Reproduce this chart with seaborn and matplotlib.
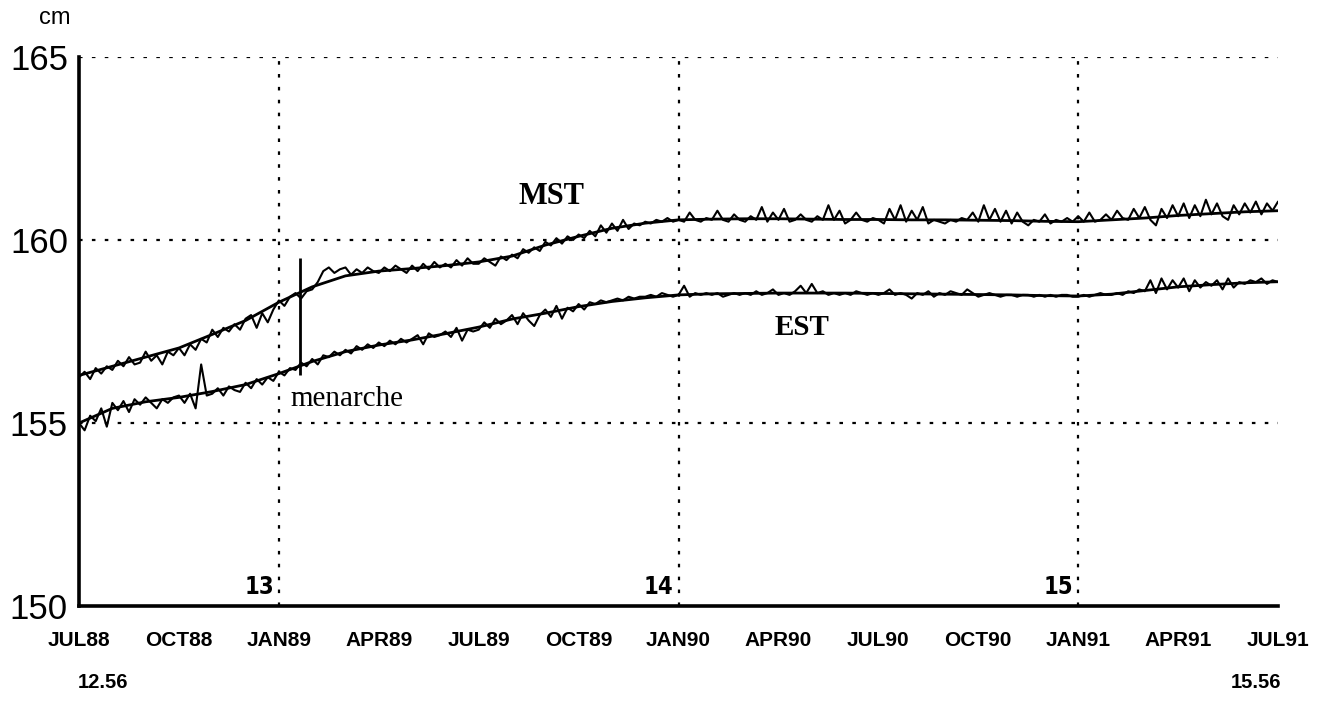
import numpy as np
import pandas as pd
import matplotlib
matplotlib.use("Agg")
import matplotlib.pyplot as plt
import seaborn as sns

# ---- data -------------------------------------------------------------
quarter_labels = ["JUL88", "OCT88", "JAN89", "APR89", "JUL89", "OCT89", "JAN90",
                  "APR90", "JUL90", "OCT90", "JAN91", "APR91", "JUL91"]
age_marks = ["13", "14", "15"]
age_mark_months = [6, 18, 30]
age_start_label, age_end_label = "12.56", "15.56"

# smoothed stature, one value per month (Jul 1988 .. Jul 1991)
mst_trend = [156.30, 156.55, 156.80, 157.05, 157.42, 157.80, 158.30, 158.72, 159.02,
             159.15, 159.22, 159.30, 159.40, 159.56, 159.86, 160.10, 160.32, 160.46,
             160.55, 160.57, 160.58, 160.58, 160.57, 160.56, 160.56, 160.55, 160.55,
             160.54, 160.53, 160.51, 160.50, 160.55, 160.60, 160.67, 160.72, 160.77,
             160.80]
est_trend = [155.00, 155.40, 155.58, 155.70, 155.86, 156.05, 156.35, 156.68, 156.95,
             157.13, 157.27, 157.44, 157.62, 157.84, 158.00, 158.18, 158.32, 158.42,
             158.50, 158.53, 158.54, 158.55, 158.55, 158.55, 158.54, 158.53, 158.52,
             158.51, 158.50, 158.48, 158.47, 158.52, 158.62, 158.72, 158.78, 158.83,
             158.86]

# measured stature, six readings per month
mst_raw = [
    156.25, 156.40, 156.20, 156.50, 156.35, 156.55,
    156.45, 156.70, 156.55, 156.80, 156.60, 156.65,
    156.95, 156.70, 156.85, 156.60, 156.95, 156.85,
    157.05, 156.85, 157.15, 157.00, 157.30, 157.20,
    157.55, 157.35, 157.60, 157.50, 157.70, 157.55,
    157.85, 157.95, 157.60, 158.00, 157.75, 158.10,
    158.35, 158.20, 158.45, 158.55, 158.40, 158.60,
    158.65, 158.85, 159.15, 159.25, 159.10, 159.20,
    159.25, 159.05, 159.20, 159.10, 159.25, 159.15,
    159.10, 159.25, 159.15, 159.30, 159.20, 159.10,
    159.30, 159.15, 159.35, 159.20, 159.40, 159.25,
    159.35, 159.25, 159.45, 159.30, 159.50, 159.35,
    159.35, 159.50, 159.40, 159.30, 159.55, 159.45,
    159.60, 159.50, 159.75, 159.65, 159.80, 159.70,
    159.95, 159.85, 160.05, 159.90, 160.10, 160.00,
    160.15, 160.05, 160.25, 160.10, 160.40, 160.20,
    160.45, 160.25, 160.55, 160.30, 160.45, 160.40,
    160.50, 160.45, 160.55, 160.50, 160.60, 160.50,
    160.55, 160.50, 160.75, 160.55, 160.50, 160.60,
    160.55, 160.80, 160.55, 160.50, 160.70, 160.55,
    160.50, 160.65, 160.55, 160.90, 160.50, 160.75,
    160.55, 160.85, 160.50, 160.55, 160.70, 160.55,
    160.50, 160.65, 160.55, 160.95, 160.55, 160.80,
    160.45, 160.55, 160.75, 160.55, 160.50, 160.60,
    160.55, 160.45, 160.85, 160.55, 160.95, 160.50,
    160.80, 160.55, 160.90, 160.45, 160.55, 160.50,
    160.45, 160.55, 160.50, 160.60, 160.55, 160.75,
    160.50, 160.95, 160.55, 160.85, 160.50, 160.80,
    160.45, 160.75, 160.50, 160.40, 160.55, 160.50,
    160.70, 160.45, 160.55, 160.50, 160.60, 160.50,
    160.65, 160.50, 160.75, 160.50, 160.55, 160.70,
    160.55, 160.80, 160.60, 160.55, 160.85, 160.60,
    160.90, 160.55, 160.40, 160.85, 160.60, 160.95,
    160.65, 161.00, 160.60, 160.95, 160.65, 161.10,
    160.70, 161.00, 160.65, 160.55, 160.95, 160.70,
    161.00, 160.75, 161.05, 160.70, 161.00, 160.80,
    161.05,
]
est_raw = [
    155.00, 154.80, 155.20, 155.05, 155.40, 154.90,
    155.55, 155.35, 155.60, 155.30, 155.65, 155.50,
    155.70, 155.55, 155.40, 155.65, 155.55, 155.70,
    155.75, 155.55, 155.80, 155.40, 156.60, 155.75,
    155.80, 155.95, 155.75, 156.00, 155.90, 155.85,
    156.10, 155.95, 156.20, 156.05, 156.25, 156.15,
    156.40, 156.30, 156.50, 156.45, 156.65, 156.55,
    156.75, 156.60, 156.85, 156.80, 156.95, 156.85,
    157.00, 156.90, 157.10, 157.00, 157.15, 157.05,
    157.20, 157.10, 157.25, 157.15, 157.30, 157.20,
    157.30, 157.40, 157.15, 157.45, 157.35, 157.40,
    157.50, 157.35, 157.60, 157.25, 157.55, 157.50,
    157.55, 157.75, 157.60, 157.85, 157.70, 157.80,
    157.95, 157.70, 158.00, 157.80, 157.65, 157.95,
    158.10, 157.90, 158.20, 157.85, 158.15, 158.05,
    158.25, 158.10, 158.30, 158.25, 158.35, 158.30,
    158.35, 158.40, 158.35, 158.45, 158.40, 158.45,
    158.45, 158.50, 158.45, 158.55, 158.50, 158.45,
    158.50, 158.75, 158.45, 158.55, 158.50, 158.55,
    158.50, 158.55, 158.45, 158.50, 158.55, 158.50,
    158.55, 158.50, 158.60, 158.50, 158.55, 158.65,
    158.50, 158.55, 158.50, 158.60, 158.75, 158.55,
    158.80, 158.55, 158.60, 158.50, 158.55, 158.50,
    158.55, 158.50, 158.60, 158.55, 158.50, 158.55,
    158.50, 158.55, 158.65, 158.50, 158.55, 158.50,
    158.40, 158.55, 158.50, 158.60, 158.45, 158.55,
    158.50, 158.60, 158.55, 158.50, 158.65, 158.55,
    158.45, 158.50, 158.55, 158.50, 158.45, 158.50,
    158.50, 158.45, 158.50, 158.50, 158.45, 158.50,
    158.45, 158.50, 158.45, 158.50, 158.50, 158.45,
    158.45, 158.50, 158.45, 158.50, 158.55, 158.50,
    158.50, 158.55, 158.50, 158.60, 158.55, 158.65,
    158.60, 158.90, 158.55, 158.95, 158.65, 158.90,
    158.70, 158.95, 158.60, 158.90, 158.70, 158.85,
    158.75, 158.90, 158.65, 158.95, 158.70, 158.85,
    158.80, 158.90, 158.85, 158.95, 158.80, 158.90,
    158.85,
]

menarche_month = 6.64
menarche_low, menarche_high = 156.3, 159.5

# ---- frames -----------------------------------------------------------
trend_df = pd.DataFrame({"month": np.arange(len(mst_trend)),
                         "MST": mst_trend, "EST": est_trend})
raw_df = pd.DataFrame({"month": np.arange(len(mst_raw)) / 6.0,
                       "MST": mst_raw, "EST": est_raw})

# ---- figure -----------------------------------------------------------
sns.set_style("white")
plt.rcParams["font.family"] = ["Liberation Sans", "DejaVu Sans"]
plt.rcParams["text.color"] = "black"
plt.rcParams["axes.labelcolor"] = "black"
plt.rcParams["xtick.color"] = "black"
plt.rcParams["ytick.color"] = "black"

fig = plt.figure(figsize=(13.24, 7.06), dpi=100)
ax = fig.add_axes([0.0597, 0.1416, 0.9056, 0.7777])

for col in ["MST", "EST"]:
    sns.lineplot(data=raw_df, x="month", y=col, ax=ax, color="black",
                 linewidth=1.5, estimator=None)
    sns.lineplot(data=trend_df, x="month", y=col, ax=ax, color="black",
                 linewidth=2.0, estimator=None)

ax.vlines(menarche_month, menarche_low, menarche_high, color="black", linewidth=2)

ax.set_xlim(0, 36)
ax.set_ylim(150, 165)

# dotted reference grid
dots = (0, (1.6, 4.2))
for yv in [155, 160, 165]:
    ax.axhline(yv, color="black", linewidth=1.6, linestyle=dots, zorder=0)
for xm in age_mark_months:
    ax.axvline(xm, color="black", linewidth=1.6, linestyle=dots, zorder=0)

# age labels at the vertical grid lines
for lab, xm in zip(age_marks, age_mark_months):
    ax.text(xm - 0.15, 150.2, lab, ha="right", va="bottom", fontsize=17,
            fontweight="bold", fontstretch="condensed",
            family=["DejaVu Sans"])

# axes styling
for side in ["top", "right"]:
    ax.spines[side].set_visible(False)
for side in ["left", "bottom"]:
    ax.spines[side].set_linewidth(2.6)
    ax.spines[side].set_color("black")

ax.set_yticks([150, 155, 160, 165])
ax.set_yticklabels(["150", "155", "160", "165"], fontsize=25)
ax.tick_params(axis="y", direction="out", length=5, width=1.5, pad=3, colors="black")

ax.set_xticks(np.arange(0, 37, 3))
ax.set_xticklabels(quarter_labels, fontsize=15, fontweight="bold")
ax.set_xticks(np.arange(0, 36.01, 0.5), minor=True)
ax.tick_params(axis="x", which="major", direction="out", length=7, width=1.5,
               pad=11, colors="black")
ax.tick_params(axis="x", which="minor", direction="out", length=3, width=1.0,
               colors="black")
ax.set_xlabel("")
ax.set_ylabel("")

# series names and event label
serif = ["Liberation Serif", "DejaVu Serif"]
ax.text(14.2, 161.2, "MST", ha="center", va="center", fontsize=22,
        fontweight="bold", family=serif)
ax.text(21.7, 157.6, "EST", ha="center", va="center", fontsize=21,
        fontweight="bold", family=serif)
ax.text(6.35, 155.65, "menarche", ha="left", va="center", fontsize=21,
        family=serif)

fig.text(0.0415, 0.9745, "cm", ha="center", va="center", fontsize=17)
fig.text(0.078, 0.0326, age_start_label, ha="center", va="center", fontsize=14.5,
         fontweight="bold")
fig.text(0.9486, 0.0326, age_end_label, ha="center", va="center", fontsize=14.5,
         fontweight="bold")

fig.savefig("out.png", dpi=100, facecolor="white")
